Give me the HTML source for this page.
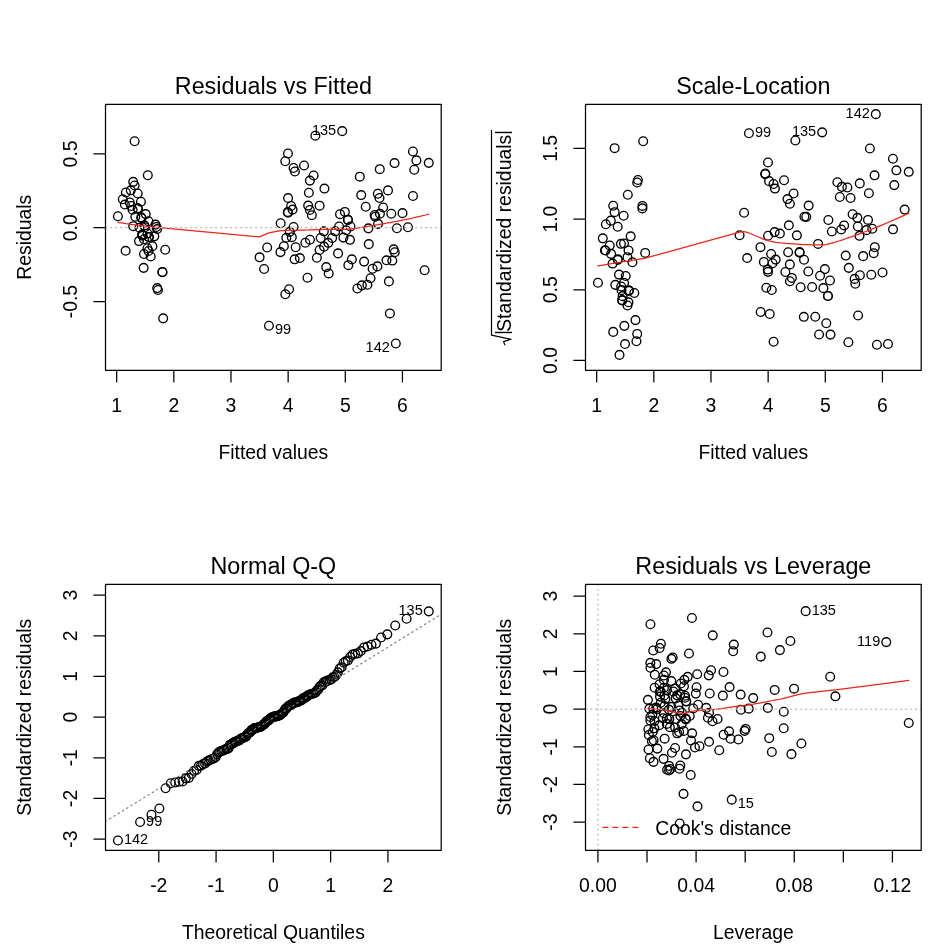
<!DOCTYPE html><html><head><meta charset="utf-8"><title>Diagnostic plots</title><style>html,body{margin:0;padding:0;background:#fff}svg{display:block}</style></head><body><svg width="949" height="951" viewBox="0 0 949 951" font-family='"Liberation Sans", sans-serif' fill="#000"><clipPath id="c1"><rect x="105.50" y="104.30" width="335.70" height="266.00"/></clipPath>
<g clip-path="url(#c1)">
<g fill="none" stroke="#000" stroke-width="1.35"><circle cx="144.02" cy="239.30" r="4.36"/><circle cx="142.23" cy="234.68" r="4.36"/><circle cx="133.21" cy="226.16" r="4.36"/><circle cx="130.77" cy="190.32" r="4.36"/><circle cx="139.51" cy="227.66" r="4.36"/><circle cx="157.20" cy="229.06" r="4.36"/><circle cx="131.12" cy="205.98" r="4.36"/><circle cx="141.57" cy="218.23" r="4.36"/><circle cx="125.88" cy="192.46" r="4.36"/><circle cx="137.75" cy="208.36" r="4.36"/><circle cx="152.38" cy="246.14" r="4.36"/><circle cx="134.62" cy="185.51" r="4.36"/><circle cx="135.31" cy="216.81" r="4.36"/><circle cx="117.93" cy="216.22" r="4.36"/><circle cx="163.18" cy="318.34" r="4.36"/><circle cx="162.46" cy="272.19" r="4.36"/><circle cx="157.20" cy="288.12" r="4.36"/><circle cx="147.46" cy="248.19" r="4.36"/><circle cx="165.21" cy="249.77" r="4.36"/><circle cx="144.36" cy="225.43" r="4.36"/><circle cx="155.47" cy="224.61" r="4.36"/><circle cx="148.84" cy="236.99" r="4.36"/><circle cx="125.61" cy="250.81" r="4.36"/><circle cx="156.41" cy="227.01" r="4.36"/><circle cx="134.62" cy="141.22" r="4.36"/><circle cx="145.70" cy="214.12" r="4.36"/><circle cx="148.46" cy="221.25" r="4.36"/><circle cx="147.49" cy="233.52" r="4.36"/><circle cx="148.52" cy="250.94" r="4.36"/><circle cx="133.21" cy="181.86" r="4.36"/><circle cx="137.72" cy="193.51" r="4.36"/><circle cx="162.36" cy="271.92" r="4.36"/><circle cx="137.86" cy="208.63" r="4.36"/><circle cx="150.69" cy="256.55" r="4.36"/><circle cx="141.19" cy="217.25" r="4.36"/><circle cx="143.64" cy="267.85" r="4.36"/><circle cx="157.92" cy="289.97" r="4.36"/><circle cx="132.59" cy="209.79" r="4.36"/><circle cx="124.85" cy="204.56" r="4.36"/><circle cx="145.05" cy="227.20" r="4.36"/><circle cx="143.98" cy="253.98" r="4.36"/><circle cx="138.99" cy="241.08" r="4.36"/><circle cx="122.79" cy="199.23" r="4.36"/><circle cx="154.31" cy="236.36" r="4.36"/><circle cx="147.80" cy="175.27" r="4.36"/><circle cx="142.19" cy="234.59" r="4.36"/><circle cx="140.92" cy="201.78" r="4.36"/><circle cx="129.74" cy="202.42" r="4.36"/><circle cx="148.90" cy="237.16" r="4.36"/><circle cx="142.60" cy="235.66" r="4.36"/><circle cx="338.08" cy="253.39" r="4.36"/><circle cx="320.67" cy="237.95" r="4.36"/><circle cx="339.08" cy="226.44" r="4.36"/><circle cx="291.80" cy="237.18" r="4.36"/><circle cx="328.27" cy="242.82" r="4.36"/><circle cx="293.59" cy="167.99" r="4.36"/><circle cx="319.60" cy="205.67" r="4.36"/><circle cx="259.59" cy="257.33" r="4.36"/><circle cx="323.83" cy="231.35" r="4.36"/><circle cx="280.69" cy="223.25" r="4.36"/><circle cx="267.19" cy="247.44" r="4.36"/><circle cx="305.36" cy="242.69" r="4.36"/><circle cx="299.88" cy="258.06" r="4.36"/><circle cx="309.90" cy="180.60" r="4.36"/><circle cx="289.08" cy="289.22" r="4.36"/><circle cx="328.68" cy="273.41" r="4.36"/><circle cx="294.93" cy="171.47" r="4.36"/><circle cx="287.77" cy="212.01" r="4.36"/><circle cx="324.04" cy="246.65" r="4.36"/><circle cx="286.32" cy="237.81" r="4.36"/><circle cx="313.62" cy="175.45" r="4.36"/><circle cx="307.49" cy="277.72" r="4.36"/><circle cx="324.42" cy="188.57" r="4.36"/><circle cx="304.05" cy="165.48" r="4.36"/><circle cx="316.88" cy="257.69" r="4.36"/><circle cx="326.24" cy="267.10" r="4.36"/><circle cx="335.25" cy="231.33" r="4.36"/><circle cx="340.04" cy="214.17" r="4.36"/><circle cx="309.86" cy="210.04" r="4.36"/><circle cx="285.32" cy="294.29" r="4.36"/><circle cx="283.88" cy="246.26" r="4.36"/><circle cx="280.44" cy="252.14" r="4.36"/><circle cx="294.65" cy="259.32" r="4.36"/><circle cx="315.37" cy="135.68" r="4.36"/><circle cx="287.98" cy="153.51" r="4.36"/><circle cx="308.15" cy="205.60" r="4.36"/><circle cx="332.13" cy="238.01" r="4.36"/><circle cx="319.60" cy="249.94" r="4.36"/><circle cx="288.05" cy="212.74" r="4.36"/><circle cx="289.73" cy="231.85" r="4.36"/><circle cx="285.26" cy="161.24" r="4.36"/><circle cx="308.87" cy="192.69" r="4.36"/><circle cx="295.68" cy="247.23" r="4.36"/><circle cx="264.10" cy="268.97" r="4.36"/><circle cx="291.14" cy="205.97" r="4.36"/><circle cx="288.08" cy="198.06" r="4.36"/><circle cx="292.56" cy="209.62" r="4.36"/><circle cx="309.93" cy="239.74" r="4.36"/><circle cx="268.95" cy="325.80" r="4.36"/><circle cx="293.59" cy="227.05" r="4.36"/><circle cx="379.78" cy="169.18" r="4.36"/><circle cx="347.94" cy="219.82" r="4.36"/><circle cx="396.91" cy="228.19" r="4.36"/><circle cx="359.81" cy="176.66" r="4.36"/><circle cx="379.50" cy="197.98" r="4.36"/><circle cx="414.28" cy="169.72" r="4.36"/><circle cx="311.85" cy="215.16" r="4.36"/><circle cx="394.56" cy="163.08" r="4.36"/><circle cx="377.84" cy="193.70" r="4.36"/><circle cx="407.96" cy="227.21" r="4.36"/><circle cx="370.55" cy="278.22" r="4.36"/><circle cx="368.79" cy="244.15" r="4.36"/><circle cx="386.48" cy="260.31" r="4.36"/><circle cx="349.97" cy="239.83" r="4.36"/><circle cx="364.12" cy="261.61" r="4.36"/><circle cx="377.40" cy="266.39" r="4.36"/><circle cx="365.73" cy="206.71" r="4.36"/><circle cx="412.94" cy="151.51" r="4.36"/><circle cx="428.77" cy="162.85" r="4.36"/><circle cx="346.28" cy="230.30" r="4.36"/><circle cx="394.78" cy="252.21" r="4.36"/><circle cx="343.40" cy="237.62" r="4.36"/><circle cx="416.38" cy="160.38" r="4.36"/><circle cx="361.88" cy="285.34" r="4.36"/><circle cx="379.91" cy="213.81" r="4.36"/><circle cx="387.99" cy="190.40" r="4.36"/><circle cx="357.37" cy="288.46" r="4.36"/><circle cx="351.83" cy="259.39" r="4.36"/><circle cx="374.64" cy="214.97" r="4.36"/><circle cx="383.17" cy="207.47" r="4.36"/><circle cx="402.51" cy="213.14" r="4.36"/><circle cx="413.01" cy="195.97" r="4.36"/><circle cx="378.09" cy="223.87" r="4.36"/><circle cx="350.52" cy="226.47" r="4.36"/><circle cx="342.19" cy="131.14" r="4.36"/><circle cx="424.64" cy="270.30" r="4.36"/><circle cx="375.30" cy="216.68" r="4.36"/><circle cx="361.22" cy="195.07" r="4.36"/><circle cx="348.36" cy="265.18" r="4.36"/><circle cx="388.92" cy="281.39" r="4.36"/><circle cx="392.30" cy="260.58" r="4.36"/><circle cx="395.81" cy="343.46" r="4.36"/><circle cx="347.94" cy="219.82" r="4.36"/><circle cx="391.30" cy="213.71" r="4.36"/><circle cx="393.68" cy="249.38" r="4.36"/><circle cx="389.89" cy="313.41" r="4.36"/><circle cx="367.38" cy="284.79" r="4.36"/><circle cx="372.61" cy="268.78" r="4.36"/><circle cx="368.39" cy="228.34" r="4.36"/><circle cx="344.88" cy="211.91" r="4.36"/></g>
<polyline points="117.93,222.33 122.79,223.10 124.85,223.41 125.61,223.52 125.88,223.57 129.74,224.12 130.77,224.27 131.12,224.31 132.59,224.52 133.21,224.60 133.21,224.60 134.62,224.79 134.62,224.79 135.31,224.88 137.72,225.19 137.75,225.20 137.86,225.21 138.99,225.35 139.51,225.42 140.92,225.59 141.19,225.62 141.57,225.67 142.19,225.74 142.23,225.75 142.60,225.79 143.64,225.91 143.98,225.96 144.02,225.96 144.36,226.00 145.05,226.08 145.70,226.15 147.46,226.35 147.49,226.35 147.80,226.39 148.46,226.46 148.52,226.47 148.84,226.50 148.90,226.51 150.69,226.71 152.38,226.89 154.31,227.09 155.47,227.21 156.41,227.30 157.20,227.38 157.20,227.38 157.92,227.45 162.36,227.88 162.46,227.89 163.18,227.96 165.21,228.15 259.59,236.86 264.10,234.91 267.19,233.59 268.95,232.94 280.44,230.72 280.69,230.70 283.88,230.51 285.26,230.46 285.32,230.45 286.32,230.41 287.77,230.37 287.98,230.36 288.05,230.36 288.08,230.36 289.08,230.33 289.73,230.32 291.14,230.31 291.80,230.30 292.56,230.30 293.59,230.29 293.59,230.29 294.65,230.29 294.93,230.29 295.68,230.29 299.88,230.23 304.05,230.11 305.36,230.07 307.49,230.00 308.15,229.98 308.87,229.96 309.86,229.93 309.90,229.93 309.93,229.93 311.85,229.86 313.62,229.80 315.37,229.74 316.88,229.69 319.60,229.59 319.60,229.59 320.67,229.56 323.83,229.45 324.04,229.45 324.42,229.44 326.24,229.38 328.27,229.33 328.68,229.32 332.13,229.26 335.25,229.24 338.08,229.27 339.08,229.29 340.04,229.32 342.19,229.40 343.40,229.43 344.88,229.47 346.28,229.35 347.94,229.21 347.94,229.21 348.36,229.16 349.97,228.99 350.52,228.93 351.83,228.77 357.37,228.01 359.81,227.64 361.22,227.43 361.88,227.33 364.12,226.97 365.73,226.72 367.38,226.45 368.39,226.29 368.79,226.23 370.55,225.94 372.61,225.60 374.64,225.26 375.30,225.15 377.40,224.80 377.84,224.73 378.09,224.68 379.50,224.44 379.78,224.40 379.91,224.37 383.17,223.81 386.48,223.22 387.99,222.95 388.92,222.78 389.89,222.61 391.30,222.35 392.30,222.17 393.68,221.91 394.56,221.74 394.78,221.70 395.81,221.51 396.91,221.30 402.51,220.20 407.96,219.08 412.94,218.00 413.01,217.99 414.28,217.71 416.38,217.23 424.64,215.25 428.77,214.21" fill="none" stroke="#ee2418" stroke-width="1.25" stroke-linejoin="round" stroke-linecap="round"/>
<line x1="105.50" y1="227.72" x2="441.20" y2="227.72" stroke="#bebebe" stroke-width="1.25" stroke-dasharray="1.25 3.75" stroke-linecap="round"/>
</g>
<g fill="none" stroke="#000" stroke-width="1.25" stroke-linecap="round" stroke-linejoin="round">
<rect x="105.50" y="104.30" width="335.70" height="266.00"/>
<path d="M116.67 370.30v11.62M173.82 370.30v11.62M230.98 370.30v11.62M288.13 370.30v11.62M345.29 370.30v11.62M402.44 370.30v11.62M105.50 301.54h-11.62M105.50 227.72h-11.62M105.50 153.90h-11.62"/></g>
<text x="116.67" y="411.73" font-size="19.37" text-anchor="middle">1</text>
<text x="173.82" y="411.73" font-size="19.37" text-anchor="middle">2</text>
<text x="230.98" y="411.73" font-size="19.37" text-anchor="middle">3</text>
<text x="288.13" y="411.73" font-size="19.37" text-anchor="middle">4</text>
<text x="345.29" y="411.73" font-size="19.37" text-anchor="middle">5</text>
<text x="402.44" y="411.73" font-size="19.37" text-anchor="middle">6</text>
<text x="76.71" y="301.54" font-size="19.37" text-anchor="middle" transform="rotate(-90 76.71 301.54)">-0.5</text>
<text x="76.71" y="227.72" font-size="19.37" text-anchor="middle" transform="rotate(-90 76.71 227.72)">0.0</text>
<text x="76.71" y="153.90" font-size="19.37" text-anchor="middle" transform="rotate(-90 76.71 153.90)">0.5</text>
<text x="273.35" y="459.11" font-size="19.37" text-anchor="middle">Fitted values</text>
<text x="30.73" y="237.30" font-size="19.37" text-anchor="middle" transform="rotate(-90 30.73 237.30)">Residuals</text>
<text x="273.35" y="93.84" font-size="23.33" text-anchor="middle">Residuals vs Fitted</text>
<text x="274.95" y="334.00" font-size="14.52" text-anchor="start">99</text>
<text x="336.19" y="134.84" font-size="14.52" text-anchor="end">135</text>
<text x="389.81" y="351.66" font-size="14.52" text-anchor="end">142</text>
<clipPath id="c2"><rect x="585.50" y="104.30" width="335.70" height="266.00"/></clipPath>
<g clip-path="url(#c2)">
<g fill="none" stroke="#000" stroke-width="1.35"><circle cx="624.02" cy="282.77" r="4.36"/><circle cx="622.23" cy="300.07" r="4.36"/><circle cx="613.21" cy="331.89" r="4.36"/><circle cx="610.77" cy="220.64" r="4.36"/><circle cx="619.51" cy="354.90" r="4.36"/><circle cx="637.20" cy="333.93" r="4.36"/><circle cx="611.12" cy="253.87" r="4.36"/><circle cx="621.57" cy="290.15" r="4.36"/><circle cx="605.88" cy="224.25" r="4.36"/><circle cx="617.75" cy="259.84" r="4.36"/><circle cx="632.38" cy="262.30" r="4.36"/><circle cx="614.62" cy="212.17" r="4.36"/><circle cx="615.31" cy="284.86" r="4.36"/><circle cx="597.93" cy="282.76" r="4.36"/><circle cx="643.18" cy="141.30" r="4.36"/><circle cx="642.46" cy="205.92" r="4.36"/><circle cx="637.20" cy="182.54" r="4.36"/><circle cx="627.46" cy="257.20" r="4.36"/><circle cx="645.21" cy="252.91" r="4.36"/><circle cx="624.36" cy="325.87" r="4.36"/><circle cx="635.47" cy="320.11" r="4.36"/><circle cx="628.84" cy="290.87" r="4.36"/><circle cx="605.61" cy="250.45" r="4.36"/><circle cx="636.41" cy="341.20" r="4.36"/><circle cx="614.62" cy="148.18" r="4.36"/><circle cx="625.70" cy="275.99" r="4.36"/><circle cx="628.46" cy="302.31" r="4.36"/><circle cx="627.49" cy="305.49" r="4.36"/><circle cx="628.52" cy="250.43" r="4.36"/><circle cx="613.21" cy="205.80" r="4.36"/><circle cx="617.72" cy="226.76" r="4.36"/><circle cx="642.36" cy="208.38" r="4.36"/><circle cx="617.86" cy="259.40" r="4.36"/><circle cx="630.69" cy="236.33" r="4.36"/><circle cx="621.19" cy="286.47" r="4.36"/><circle cx="623.64" cy="215.76" r="4.36"/><circle cx="637.92" cy="180.02" r="4.36"/><circle cx="612.59" cy="263.58" r="4.36"/><circle cx="604.85" cy="250.22" r="4.36"/><circle cx="625.05" cy="344.06" r="4.36"/><circle cx="623.98" cy="243.51" r="4.36"/><circle cx="618.99" cy="274.61" r="4.36"/><circle cx="602.79" cy="238.35" r="4.36"/><circle cx="634.31" cy="292.94" r="4.36"/><circle cx="627.80" cy="194.77" r="4.36"/><circle cx="622.19" cy="300.38" r="4.36"/><circle cx="620.92" cy="243.83" r="4.36"/><circle cx="609.74" cy="245.53" r="4.36"/><circle cx="628.90" cy="290.20" r="4.36"/><circle cx="622.60" cy="296.15" r="4.36"/><circle cx="818.08" cy="243.92" r="4.36"/><circle cx="800.67" cy="287.26" r="4.36"/><circle cx="819.08" cy="334.48" r="4.36"/><circle cx="771.80" cy="289.98" r="4.36"/><circle cx="808.27" cy="271.46" r="4.36"/><circle cx="773.59" cy="184.01" r="4.36"/><circle cx="799.60" cy="252.75" r="4.36"/><circle cx="739.59" cy="235.19" r="4.36"/><circle cx="803.83" cy="316.82" r="4.36"/><circle cx="760.69" cy="311.94" r="4.36"/><circle cx="747.19" cy="258.06" r="4.36"/><circle cx="785.36" cy="272.00" r="4.36"/><circle cx="779.88" cy="233.56" r="4.36"/><circle cx="789.90" cy="203.77" r="4.36"/><circle cx="769.08" cy="181.15" r="4.36"/><circle cx="808.68" cy="205.59" r="4.36"/><circle cx="774.93" cy="188.57" r="4.36"/><circle cx="767.77" cy="269.57" r="4.36"/><circle cx="804.04" cy="259.73" r="4.36"/><circle cx="766.32" cy="287.80" r="4.36"/><circle cx="793.62" cy="193.48" r="4.36"/><circle cx="787.49" cy="199.08" r="4.36"/><circle cx="804.42" cy="216.73" r="4.36"/><circle cx="784.05" cy="180.21" r="4.36"/><circle cx="796.88" cy="235.32" r="4.36"/><circle cx="806.24" cy="216.85" r="4.36"/><circle cx="815.25" cy="316.80" r="4.36"/><circle cx="820.04" cy="275.79" r="4.36"/><circle cx="789.86" cy="264.38" r="4.36"/><circle cx="765.32" cy="173.45" r="4.36"/><circle cx="763.88" cy="261.91" r="4.36"/><circle cx="760.44" cy="247.18" r="4.36"/><circle cx="774.65" cy="232.10" r="4.36"/><circle cx="795.37" cy="140.53" r="4.36"/><circle cx="767.98" cy="162.54" r="4.36"/><circle cx="788.15" cy="252.21" r="4.36"/><circle cx="812.13" cy="286.95" r="4.36"/><circle cx="799.60" cy="251.96" r="4.36"/><circle cx="768.05" cy="271.84" r="4.36"/><circle cx="769.73" cy="313.98" r="4.36"/><circle cx="765.26" cy="174.16" r="4.36"/><circle cx="788.87" cy="225.31" r="4.36"/><circle cx="775.68" cy="259.61" r="4.36"/><circle cx="744.10" cy="212.79" r="4.36"/><circle cx="771.14" cy="253.96" r="4.36"/><circle cx="768.08" cy="235.71" r="4.36"/><circle cx="772.56" cy="263.24" r="4.36"/><circle cx="789.93" cy="281.30" r="4.36"/><circle cx="748.95" cy="133.29" r="4.36"/><circle cx="773.59" cy="341.71" r="4.36"/><circle cx="859.78" cy="183.39" r="4.36"/><circle cx="827.94" cy="296.05" r="4.36"/><circle cx="876.91" cy="344.80" r="4.36"/><circle cx="839.81" cy="197.00" r="4.36"/><circle cx="859.50" cy="235.82" r="4.36"/><circle cx="894.28" cy="185.11" r="4.36"/><circle cx="791.85" cy="277.93" r="4.36"/><circle cx="874.56" cy="175.32" r="4.36"/><circle cx="857.84" cy="226.50" r="4.36"/><circle cx="887.96" cy="343.98" r="4.36"/><circle cx="850.55" cy="198.04" r="4.36"/><circle cx="848.79" cy="267.85" r="4.36"/><circle cx="866.48" cy="230.13" r="4.36"/><circle cx="829.97" cy="280.51" r="4.36"/><circle cx="844.12" cy="225.41" r="4.36"/><circle cx="857.40" cy="217.86" r="4.36"/><circle cx="845.73" cy="255.57" r="4.36"/><circle cx="892.94" cy="158.69" r="4.36"/><circle cx="908.77" cy="171.82" r="4.36"/><circle cx="826.28" cy="323.29" r="4.36"/><circle cx="874.78" cy="247.17" r="4.36"/><circle cx="823.40" cy="288.13" r="4.36"/><circle cx="896.38" cy="170.32" r="4.36"/><circle cx="841.88" cy="186.87" r="4.36"/><circle cx="859.91" cy="275.21" r="4.36"/><circle cx="867.99" cy="219.93" r="4.36"/><circle cx="837.37" cy="182.20" r="4.36"/><circle cx="831.83" cy="231.46" r="4.36"/><circle cx="854.64" cy="278.89" r="4.36"/><circle cx="863.17" cy="256.15" r="4.36"/><circle cx="882.51" cy="272.46" r="4.36"/><circle cx="893.01" cy="229.32" r="4.36"/><circle cx="858.09" cy="315.51" r="4.36"/><circle cx="830.52" cy="334.61" r="4.36"/><circle cx="822.19" cy="132.37" r="4.36"/><circle cx="904.64" cy="209.57" r="4.36"/><circle cx="855.30" cy="283.78" r="4.36"/><circle cx="841.22" cy="229.52" r="4.36"/><circle cx="828.36" cy="220.05" r="4.36"/><circle cx="868.92" cy="193.19" r="4.36"/><circle cx="872.30" cy="228.80" r="4.36"/><circle cx="875.81" cy="114.15" r="4.36"/><circle cx="827.94" cy="296.05" r="4.36"/><circle cx="871.30" cy="274.78" r="4.36"/><circle cx="873.68" cy="253.16" r="4.36"/><circle cx="869.89" cy="148.44" r="4.36"/><circle cx="847.38" cy="187.48" r="4.36"/><circle cx="852.61" cy="214.22" r="4.36"/><circle cx="848.39" cy="342.30" r="4.36"/><circle cx="824.88" cy="269.12" r="4.36"/></g>
<polyline points="597.93,265.89 602.79,265.10 604.85,264.77 605.61,264.64 605.88,264.60 609.74,263.97 610.77,263.80 611.12,263.74 612.59,263.50 613.21,263.40 613.21,263.40 614.62,263.17 614.62,263.17 615.31,263.06 617.72,262.66 617.75,262.65 617.86,262.64 618.99,262.45 619.51,262.37 620.92,262.13 621.19,262.09 621.57,262.03 622.19,261.93 622.23,261.92 622.60,261.86 623.64,261.69 623.98,261.63 624.02,261.63 624.36,261.57 625.05,261.46 625.70,261.35 627.46,261.07 627.49,261.06 627.80,261.01 628.46,260.90 628.52,260.89 628.84,260.84 628.90,260.83 630.69,260.54 632.38,260.27 634.31,259.96 635.47,259.77 636.41,259.62 637.20,259.50 637.20,259.50 637.92,259.38 642.36,258.67 642.46,258.66 643.18,258.54 645.21,258.22 739.59,232.20 744.10,231.72 747.19,232.41 748.95,233.02 760.44,237.78 760.69,237.91 763.88,239.40 765.26,239.81 765.32,239.83 766.32,240.12 767.77,240.49 767.98,240.54 768.05,240.56 768.08,240.57 769.08,240.83 769.73,241.00 771.14,241.37 771.80,241.54 772.56,241.70 773.59,241.91 773.59,241.91 774.65,242.12 774.93,242.17 775.68,242.31 779.88,242.83 784.05,243.22 785.36,243.34 787.49,243.52 788.15,243.57 788.87,243.63 789.86,243.71 789.90,243.71 789.93,243.71 791.85,243.86 793.62,243.98 795.37,244.10 796.88,244.19 799.60,244.35 799.60,244.35 800.67,244.40 803.83,244.55 804.04,244.56 804.42,244.58 806.24,244.65 808.27,244.73 808.68,244.74 812.13,244.84 815.25,244.90 818.08,244.94 819.08,244.95 820.04,244.96 822.19,244.97 823.40,244.91 824.88,244.83 826.28,244.51 827.94,244.14 827.94,244.14 828.36,244.03 829.97,243.62 830.52,243.48 831.83,243.13 837.37,241.50 839.81,240.73 841.22,240.27 841.88,240.05 844.12,239.31 845.73,238.76 847.38,238.19 848.39,237.84 848.79,237.70 850.55,237.08 852.61,236.35 854.64,235.62 855.30,235.38 857.40,234.61 857.84,234.45 858.09,234.36 859.50,233.84 859.78,233.74 859.91,233.69 863.17,232.47 866.48,231.21 867.99,230.62 868.92,230.26 869.89,229.89 871.30,229.33 872.30,228.94 873.68,228.39 874.56,228.04 874.78,227.95 875.81,227.54 876.91,227.10 882.51,224.80 887.96,222.50 892.94,220.35 893.01,220.32 894.28,219.76 896.38,218.83 904.64,215.06 908.77,213.12" fill="none" stroke="#ee2418" stroke-width="1.25" stroke-linejoin="round" stroke-linecap="round"/>
</g>
<g fill="none" stroke="#000" stroke-width="1.25" stroke-linecap="round" stroke-linejoin="round">
<rect x="585.50" y="104.30" width="335.70" height="266.00"/>
<path d="M596.67 370.30v11.62M653.82 370.30v11.62M710.98 370.30v11.62M768.13 370.30v11.62M825.29 370.30v11.62M882.44 370.30v11.62M585.50 360.45h-11.62M585.50 289.76h-11.62M585.50 219.07h-11.62M585.50 148.38h-11.62"/></g>
<text x="596.67" y="411.73" font-size="19.37" text-anchor="middle">1</text>
<text x="653.82" y="411.73" font-size="19.37" text-anchor="middle">2</text>
<text x="710.98" y="411.73" font-size="19.37" text-anchor="middle">3</text>
<text x="768.13" y="411.73" font-size="19.37" text-anchor="middle">4</text>
<text x="825.29" y="411.73" font-size="19.37" text-anchor="middle">5</text>
<text x="882.44" y="411.73" font-size="19.37" text-anchor="middle">6</text>
<text x="556.71" y="360.45" font-size="19.37" text-anchor="middle" transform="rotate(-90 556.71 360.45)">0.0</text>
<text x="556.71" y="289.76" font-size="19.37" text-anchor="middle" transform="rotate(-90 556.71 289.76)">0.5</text>
<text x="556.71" y="219.07" font-size="19.37" text-anchor="middle" transform="rotate(-90 556.71 219.07)">1.0</text>
<text x="556.71" y="148.38" font-size="19.37" text-anchor="middle" transform="rotate(-90 556.71 148.38)">1.5</text>
<text x="753.35" y="459.11" font-size="19.37" text-anchor="middle">Fitted values</text>
<text x="753.35" y="93.84" font-size="23.33" text-anchor="middle">Scale-Location</text>
<text x="754.95" y="136.99" font-size="14.52" text-anchor="start">99</text>
<text x="816.19" y="136.07" font-size="14.52" text-anchor="end">135</text>
<text x="869.81" y="117.85" font-size="14.52" text-anchor="end">142</text>
<clipPath id="c3"><rect x="105.50" y="584.30" width="335.70" height="266.00"/></clipPath>
<g clip-path="url(#c3)">
<g fill="none" stroke="#000" stroke-width="1.35"><circle cx="253.33" cy="729.37" r="4.36"/><circle cx="263.25" cy="724.52" r="4.36"/><circle cx="279.58" cy="715.45" r="4.36"/><circle cx="332.72" cy="677.36" r="4.36"/><circle cx="272.87" cy="717.04" r="4.36"/><circle cx="270.00" cy="718.54" r="4.36"/><circle cx="311.99" cy="694.01" r="4.36"/><circle cx="287.37" cy="707.06" r="4.36"/><circle cx="331.11" cy="679.39" r="4.36"/><circle cx="306.17" cy="696.53" r="4.36"/><circle cx="246.02" cy="736.69" r="4.36"/><circle cx="337.88" cy="672.40" r="4.36"/><circle cx="289.35" cy="705.49" r="4.36"/><circle cx="291.35" cy="704.83" r="4.36"/><circle cx="151.45" cy="814.75" r="4.36"/><circle cx="201.01" cy="765.66" r="4.36"/><circle cx="182.65" cy="781.47" r="4.36"/><circle cx="240.53" cy="738.78" r="4.36"/><circle cx="238.25" cy="740.62" r="4.36"/><circle cx="280.55" cy="714.67" r="4.36"/><circle cx="281.51" cy="713.80" r="4.36"/><circle cx="260.32" cy="726.95" r="4.36"/><circle cx="235.91" cy="741.71" r="4.36"/><circle cx="276.70" cy="716.35" r="4.36"/><circle cx="395.25" cy="625.49" r="4.36"/><circle cx="294.40" cy="702.60" r="4.36"/><circle cx="284.43" cy="710.23" r="4.36"/><circle cx="265.19" cy="723.25" r="4.36"/><circle cx="234.71" cy="741.71" r="4.36"/><circle cx="339.71" cy="668.48" r="4.36"/><circle cx="326.52" cy="680.77" r="4.36"/><circle cx="203.09" cy="764.13" r="4.36"/><circle cx="307.31" cy="696.35" r="4.36"/><circle cx="228.47" cy="748.43" r="4.36"/><circle cx="288.36" cy="705.98" r="4.36"/><circle cx="210.60" cy="759.67" r="4.36"/><circle cx="170.77" cy="783.30" r="4.36"/><circle cx="303.94" cy="698.03" r="4.36"/><circle cx="315.67" cy="692.40" r="4.36"/><circle cx="273.83" cy="716.56" r="4.36"/><circle cx="229.76" cy="744.91" r="4.36"/><circle cx="250.24" cy="732.09" r="4.36"/><circle cx="319.55" cy="686.80" r="4.36"/><circle cx="261.30" cy="726.37" r="4.36"/><circle cx="345.69" cy="661.29" r="4.36"/><circle cx="264.22" cy="724.44" r="4.36"/><circle cx="318.23" cy="689.46" r="4.36"/><circle cx="316.94" cy="690.25" r="4.36"/><circle cx="259.33" cy="727.14" r="4.36"/><circle cx="262.27" cy="725.51" r="4.36"/><circle cx="231.03" cy="744.72" r="4.36"/><circle cx="255.35" cy="728.00" r="4.36"/><circle cx="278.62" cy="715.73" r="4.36"/><circle cx="258.34" cy="727.20" r="4.36"/><circle cx="248.15" cy="733.21" r="4.36"/><circle cx="355.14" cy="653.81" r="4.36"/><circle cx="313.20" cy="693.52" r="4.36"/><circle cx="225.82" cy="749.01" r="4.36"/><circle cx="268.08" cy="720.98" r="4.36"/><circle cx="283.45" cy="712.32" r="4.36"/><circle cx="241.65" cy="738.42" r="4.36"/><circle cx="249.20" cy="733.01" r="4.36"/><circle cx="224.45" cy="749.84" r="4.36"/><circle cx="341.62" cy="667.19" r="4.36"/><circle cx="175.21" cy="782.47" r="4.36"/><circle cx="198.83" cy="765.87" r="4.36"/><circle cx="350.15" cy="657.04" r="4.36"/><circle cx="300.68" cy="700.31" r="4.36"/><circle cx="243.86" cy="737.73" r="4.36"/><circle cx="256.35" cy="727.84" r="4.36"/><circle cx="347.87" cy="660.42" r="4.36"/><circle cx="196.55" cy="770.05" r="4.36"/><circle cx="336.10" cy="675.11" r="4.36"/><circle cx="360.85" cy="651.06" r="4.36"/><circle cx="227.15" cy="748.94" r="4.36"/><circle cx="212.32" cy="759.03" r="4.36"/><circle cx="267.12" cy="720.98" r="4.36"/><circle cx="295.42" cy="702.53" r="4.36"/><circle cx="302.84" cy="698.34" r="4.36"/><circle cx="165.61" cy="788.21" r="4.36"/><circle cx="244.95" cy="736.85" r="4.36"/><circle cx="233.50" cy="743.19" r="4.36"/><circle cx="223.06" cy="750.60" r="4.36"/><circle cx="406.61" cy="618.76" r="4.36"/><circle cx="381.09" cy="637.47" r="4.36"/><circle cx="314.43" cy="693.28" r="4.36"/><circle cx="254.34" cy="728.09" r="4.36"/><circle cx="237.08" cy="741.03" r="4.36"/><circle cx="299.61" cy="701.14" r="4.36"/><circle cx="266.15" cy="721.50" r="4.36"/><circle cx="367.58" cy="646.54" r="4.36"/><circle cx="329.54" cy="679.97" r="4.36"/><circle cx="242.76" cy="737.78" r="4.36"/><circle cx="206.99" cy="761.44" r="4.36"/><circle cx="310.79" cy="694.05" r="4.36"/><circle cx="322.25" cy="685.47" r="4.36"/><circle cx="305.05" cy="697.89" r="4.36"/><circle cx="252.30" cy="729.84" r="4.36"/><circle cx="140.09" cy="822.02" r="4.36"/><circle cx="275.74" cy="716.39" r="4.36"/><circle cx="357.89" cy="653.36" r="4.36"/><circle cx="285.40" cy="708.67" r="4.36"/><circle cx="271.91" cy="717.60" r="4.36"/><circle cx="343.61" cy="662.79" r="4.36"/><circle cx="320.88" cy="685.52" r="4.36"/><circle cx="352.57" cy="654.59" r="4.36"/><circle cx="293.37" cy="703.26" r="4.36"/><circle cx="364.05" cy="647.42" r="4.36"/><circle cx="328.01" cy="680.63" r="4.36"/><circle cx="274.79" cy="716.55" r="4.36"/><circle cx="194.13" cy="770.74" r="4.36"/><circle cx="247.09" cy="734.54" r="4.36"/><circle cx="220.18" cy="751.64" r="4.36"/><circle cx="251.28" cy="730.10" r="4.36"/><circle cx="217.16" cy="754.18" r="4.36"/><circle cx="213.98" cy="758.44" r="4.36"/><circle cx="309.62" cy="694.74" r="4.36"/><circle cx="387.31" cy="634.34" r="4.36"/><circle cx="371.49" cy="644.76" r="4.36"/><circle cx="269.04" cy="719.91" r="4.36"/><circle cx="232.27" cy="743.19" r="4.36"/><circle cx="257.35" cy="727.74" r="4.36"/><circle cx="375.93" cy="643.60" r="4.36"/><circle cx="185.85" cy="778.37" r="4.36"/><circle cx="296.46" cy="702.33" r="4.36"/><circle cx="334.38" cy="676.96" r="4.36"/><circle cx="179.12" cy="781.71" r="4.36"/><circle cx="221.64" cy="750.93" r="4.36"/><circle cx="292.36" cy="703.58" r="4.36"/><circle cx="308.45" cy="694.99" r="4.36"/><circle cx="298.55" cy="701.36" r="4.36"/><circle cx="325.06" cy="682.14" r="4.36"/><circle cx="282.48" cy="713.00" r="4.36"/><circle cx="277.66" cy="715.75" r="4.36"/><circle cx="428.77" cy="611.34" r="4.36"/><circle cx="205.08" cy="763.39" r="4.36"/><circle cx="290.35" cy="705.15" r="4.36"/><circle cx="323.64" cy="682.25" r="4.36"/><circle cx="215.59" cy="757.19" r="4.36"/><circle cx="191.56" cy="773.99" r="4.36"/><circle cx="218.69" cy="752.34" r="4.36"/><circle cx="117.93" cy="840.45" r="4.36"/><circle cx="286.38" cy="708.67" r="4.36"/><circle cx="297.50" cy="702.18" r="4.36"/><circle cx="239.39" cy="740.51" r="4.36"/><circle cx="159.39" cy="808.50" r="4.36"/><circle cx="188.81" cy="777.93" r="4.36"/><circle cx="208.82" cy="760.58" r="4.36"/><circle cx="270.96" cy="717.78" r="4.36"/><circle cx="301.75" cy="700.15" r="4.36"/></g>
<line x1="105.50" y1="821.46" x2="441.20" y2="614.28" stroke="#7f7f7f" stroke-width="1.25" stroke-dasharray="1.25 3.75" stroke-linecap="round"/>
</g>
<g fill="none" stroke="#000" stroke-width="1.25" stroke-linecap="round" stroke-linejoin="round">
<rect x="105.50" y="584.30" width="335.70" height="266.00"/>
<path d="M158.78 850.30v11.62M216.07 850.30v11.62M273.35 850.30v11.62M330.63 850.30v11.62M387.92 850.30v11.62M105.50 839.03h-11.62M105.50 798.39h-11.62M105.50 757.75h-11.62M105.50 717.11h-11.62M105.50 676.46h-11.62M105.50 635.82h-11.62M105.50 595.18h-11.62"/></g>
<text x="158.78" y="891.73" font-size="19.37" text-anchor="middle">-2</text>
<text x="216.07" y="891.73" font-size="19.37" text-anchor="middle">-1</text>
<text x="273.35" y="891.73" font-size="19.37" text-anchor="middle">0</text>
<text x="330.63" y="891.73" font-size="19.37" text-anchor="middle">1</text>
<text x="387.92" y="891.73" font-size="19.37" text-anchor="middle">2</text>
<text x="76.71" y="839.03" font-size="19.37" text-anchor="middle" transform="rotate(-90 76.71 839.03)">-3</text>
<text x="76.71" y="798.39" font-size="19.37" text-anchor="middle" transform="rotate(-90 76.71 798.39)">-2</text>
<text x="76.71" y="757.75" font-size="19.37" text-anchor="middle" transform="rotate(-90 76.71 757.75)">-1</text>
<text x="76.71" y="717.11" font-size="19.37" text-anchor="middle" transform="rotate(-90 76.71 717.11)">0</text>
<text x="76.71" y="676.46" font-size="19.37" text-anchor="middle" transform="rotate(-90 76.71 676.46)">1</text>
<text x="76.71" y="635.82" font-size="19.37" text-anchor="middle" transform="rotate(-90 76.71 635.82)">2</text>
<text x="76.71" y="595.18" font-size="19.37" text-anchor="middle" transform="rotate(-90 76.71 595.18)">3</text>
<text x="273.35" y="939.11" font-size="19.37" text-anchor="middle">Theoretical Quantiles</text>
<text x="30.73" y="717.30" font-size="19.37" text-anchor="middle" transform="rotate(-90 30.73 717.30)">Standardized residuals</text>
<text x="273.35" y="573.84" font-size="23.33" text-anchor="middle">Normal Q-Q</text>
<text x="146.09" y="825.72" font-size="14.52" text-anchor="start">99</text>
<text x="422.77" y="615.04" font-size="14.52" text-anchor="end">135</text>
<text x="123.93" y="844.15" font-size="14.52" text-anchor="start">142</text>
<clipPath id="c4"><rect x="585.50" y="584.30" width="335.70" height="266.00"/></clipPath>
<g clip-path="url(#c4)">
<g fill="none" stroke="#000" stroke-width="1.35"><circle cx="650.36" cy="720.53" r="4.36"/><circle cx="680.38" cy="716.03" r="4.36"/><circle cx="656.22" cy="707.62" r="4.36"/><circle cx="666.01" cy="672.33" r="4.36"/><circle cx="656.96" cy="709.10" r="4.36"/><circle cx="679.46" cy="710.48" r="4.36"/><circle cx="663.93" cy="687.76" r="4.36"/><circle cx="647.95" cy="699.85" r="4.36"/><circle cx="697.21" cy="674.21" r="4.36"/><circle cx="666.84" cy="690.09" r="4.36"/><circle cx="669.87" cy="727.31" r="4.36"/><circle cx="650.44" cy="667.73" r="4.36"/><circle cx="675.77" cy="698.39" r="4.36"/><circle cx="685.01" cy="697.79" r="4.36"/><circle cx="731.75" cy="799.65" r="4.36"/><circle cx="791.43" cy="754.15" r="4.36"/><circle cx="679.46" cy="768.80" r="4.36"/><circle cx="648.39" cy="729.24" r="4.36"/><circle cx="683.79" cy="730.95" r="4.36"/><circle cx="671.49" cy="706.90" r="4.36"/><circle cx="664.52" cy="706.09" r="4.36"/><circle cx="662.85" cy="718.28" r="4.36"/><circle cx="679.15" cy="731.96" r="4.36"/><circle cx="693.24" cy="708.46" r="4.36"/><circle cx="650.44" cy="624.25" r="4.36"/><circle cx="685.05" cy="695.72" r="4.36"/><circle cx="660.73" cy="702.79" r="4.36"/><circle cx="652.34" cy="714.85" r="4.36"/><circle cx="652.64" cy="731.96" r="4.36"/><circle cx="656.22" cy="664.09" r="4.36"/><circle cx="663.86" cy="675.48" r="4.36"/><circle cx="671.95" cy="752.73" r="4.36"/><circle cx="774.70" cy="689.92" r="4.36"/><circle cx="769.22" cy="738.18" r="4.36"/><circle cx="665.47" cy="698.85" r="4.36"/><circle cx="657.32" cy="748.60" r="4.36"/><circle cx="669.08" cy="770.50" r="4.36"/><circle cx="673.37" cy="691.48" r="4.36"/><circle cx="683.98" cy="686.26" r="4.36"/><circle cx="649.40" cy="708.65" r="4.36"/><circle cx="648.87" cy="734.93" r="4.36"/><circle cx="908.77" cy="723.04" r="4.36"/><circle cx="671.29" cy="681.07" r="4.36"/><circle cx="707.90" cy="717.74" r="4.36"/><circle cx="672.71" cy="657.44" r="4.36"/><circle cx="689.73" cy="715.96" r="4.36"/><circle cx="680.76" cy="683.53" r="4.36"/><circle cx="659.45" cy="684.27" r="4.36"/><circle cx="666.80" cy="718.46" r="4.36"/><circle cx="650.34" cy="716.95" r="4.36"/><circle cx="723.60" cy="734.74" r="4.36"/><circle cx="676.04" cy="719.25" r="4.36"/><circle cx="706.25" cy="707.89" r="4.36"/><circle cx="685.73" cy="718.52" r="4.36"/><circle cx="681.71" cy="724.08" r="4.36"/><circle cx="653.24" cy="650.50" r="4.36"/><circle cx="696.54" cy="687.30" r="4.36"/><circle cx="730.54" cy="738.72" r="4.36"/><circle cx="681.98" cy="712.74" r="4.36"/><circle cx="698.07" cy="704.72" r="4.36"/><circle cx="745.64" cy="728.91" r="4.36"/><circle cx="666.85" cy="723.90" r="4.36"/><circle cx="738.38" cy="739.50" r="4.36"/><circle cx="650.35" cy="662.90" r="4.36"/><circle cx="667.10" cy="769.74" r="4.36"/><circle cx="685.96" cy="754.34" r="4.36"/><circle cx="689.00" cy="653.49" r="4.36"/><circle cx="695.81" cy="693.59" r="4.36"/><circle cx="783.70" cy="728.27" r="4.36"/><circle cx="669.36" cy="719.10" r="4.36"/><circle cx="760.80" cy="656.63" r="4.36"/><circle cx="649.85" cy="758.22" r="4.36"/><circle cx="711.06" cy="670.24" r="4.36"/><circle cx="659.64" cy="647.95" r="4.36"/><circle cx="664.64" cy="738.66" r="4.36"/><circle cx="675.04" cy="748.01" r="4.36"/><circle cx="709.04" cy="712.75" r="4.36"/><circle cx="722.85" cy="695.65" r="4.36"/><circle cx="659.84" cy="691.77" r="4.36"/><circle cx="690.71" cy="775.05" r="4.36"/><circle cx="675.12" cy="727.45" r="4.36"/><circle cx="692.14" cy="733.33" r="4.36"/><circle cx="653.64" cy="740.20" r="4.36"/><circle cx="691.94" cy="618.02" r="4.36"/><circle cx="712.74" cy="635.36" r="4.36"/><circle cx="729.58" cy="687.08" r="4.36"/><circle cx="685.82" cy="719.34" r="4.36"/><circle cx="729.07" cy="731.33" r="4.36"/><circle cx="680.21" cy="694.36" r="4.36"/><circle cx="663.95" cy="713.23" r="4.36"/><circle cx="660.86" cy="643.76" r="4.36"/><circle cx="654.76" cy="674.75" r="4.36"/><circle cx="654.37" cy="728.32" r="4.36"/><circle cx="719.26" cy="750.24" r="4.36"/><circle cx="654.65" cy="687.79" r="4.36"/><circle cx="684.37" cy="679.84" r="4.36"/><circle cx="660.51" cy="691.35" r="4.36"/><circle cx="654.49" cy="720.96" r="4.36"/><circle cx="697.50" cy="806.39" r="4.36"/><circle cx="653.24" cy="708.50" r="4.36"/><circle cx="779.89" cy="650.09" r="4.36"/><circle cx="686.21" cy="701.34" r="4.36"/><circle cx="668.91" cy="709.62" r="4.36"/><circle cx="671.41" cy="658.82" r="4.36"/><circle cx="663.95" cy="679.89" r="4.36"/><circle cx="733.20" cy="651.23" r="4.36"/><circle cx="835.42" cy="696.33" r="4.36"/><circle cx="733.82" cy="644.58" r="4.36"/><circle cx="708.74" cy="675.35" r="4.36"/><circle cx="748.73" cy="708.65" r="4.36"/><circle cx="663.56" cy="758.86" r="4.36"/><circle cx="659.30" cy="725.31" r="4.36"/><circle cx="651.87" cy="741.16" r="4.36"/><circle cx="712.43" cy="721.20" r="4.36"/><circle cx="801.37" cy="743.52" r="4.36"/><circle cx="694.95" cy="747.47" r="4.36"/><circle cx="675.04" cy="688.43" r="4.36"/><circle cx="767.46" cy="632.46" r="4.36"/><circle cx="886.26" cy="642.11" r="4.36"/><circle cx="783.77" cy="711.76" r="4.36"/><circle cx="677.21" cy="733.33" r="4.36"/><circle cx="717.57" cy="719.01" r="4.36"/><circle cx="790.39" cy="641.04" r="4.36"/><circle cx="669.16" cy="765.93" r="4.36"/><circle cx="664.40" cy="695.47" r="4.36"/><circle cx="723.48" cy="671.95" r="4.36"/><circle cx="670.37" cy="769.02" r="4.36"/><circle cx="690.99" cy="740.51" r="4.36"/><circle cx="659.98" cy="696.62" r="4.36"/><circle cx="794.04" cy="688.66" r="4.36"/><circle cx="740.66" cy="694.57" r="4.36"/><circle cx="830.18" cy="676.76" r="4.36"/><circle cx="678.47" cy="705.35" r="4.36"/><circle cx="767.80" cy="707.90" r="4.36"/><circle cx="805.68" cy="611.14" r="4.36"/><circle cx="771.84" cy="752.05" r="4.36"/><circle cx="753.20" cy="698.08" r="4.36"/><circle cx="687.69" cy="676.86" r="4.36"/><circle cx="699.47" cy="746.30" r="4.36"/><circle cx="653.53" cy="761.87" r="4.36"/><circle cx="709.08" cy="741.81" r="4.36"/><circle cx="679.72" cy="823.46" r="4.36"/><circle cx="686.21" cy="701.34" r="4.36"/><circle cx="677.17" cy="695.33" r="4.36"/><circle cx="744.58" cy="730.85" r="4.36"/><circle cx="683.51" cy="793.85" r="4.36"/><circle cx="680.28" cy="765.53" r="4.36"/><circle cx="648.52" cy="749.45" r="4.36"/><circle cx="740.92" cy="709.78" r="4.36"/><circle cx="709.74" cy="693.44" r="4.36"/></g>
<polyline points="647.95,708.20 648.39,708.25 648.52,708.26 648.87,708.29 649.40,708.34 649.85,708.38 650.34,708.43 650.35,708.43 650.36,708.43 650.44,708.44 650.44,708.44 651.87,708.60 652.34,708.66 652.64,708.69 653.24,708.77 653.24,708.77 653.53,708.81 653.64,708.83 654.37,708.92 654.49,708.94 654.65,708.96 654.76,708.98 656.22,709.19 656.22,709.19 656.96,709.29 657.32,709.34 659.30,709.63 659.45,709.65 659.64,709.68 659.84,709.71 659.98,709.73 660.51,709.80 660.73,709.83 660.86,709.85 662.85,710.11 663.56,710.20 663.86,710.23 663.93,710.24 663.95,710.24 663.95,710.24 664.40,710.30 664.52,710.31 664.64,710.33 665.47,710.42 666.01,710.48 666.80,710.57 666.84,710.57 666.85,710.58 667.10,710.60 668.91,710.84 669.08,710.87 669.16,710.88 669.36,710.90 669.87,711.04 670.37,711.17 671.29,711.41 671.41,711.44 671.49,711.46 671.95,711.58 672.71,711.80 673.37,711.99 675.04,712.37 675.04,712.37 675.12,712.39 675.77,712.53 676.04,712.56 677.17,712.71 677.21,712.71 678.47,712.90 679.15,713.01 679.46,713.05 679.46,713.05 679.72,713.09 680.21,713.17 680.28,713.18 680.38,713.19 680.76,713.25 681.71,713.40 681.98,713.44 683.51,713.39 683.79,713.39 683.98,713.38 684.37,713.37 685.01,713.20 685.05,713.19 685.73,713.01 685.82,712.99 685.96,712.95 686.21,712.89 686.21,712.89 687.69,712.45 689.00,712.13 689.73,711.94 690.71,711.73 690.99,711.66 691.94,711.45 692.14,711.41 693.24,711.19 694.95,710.90 695.81,710.76 696.54,710.69 697.21,710.62 697.50,710.59 698.07,710.54 699.47,710.33 706.25,709.65 707.90,709.65 708.74,709.65 709.04,709.66 709.08,709.66 709.74,709.66 711.06,709.68 712.43,709.67 712.74,709.67 717.57,709.24 719.26,708.97 722.85,708.39 723.48,708.30 723.60,708.28 729.07,707.42 729.58,707.35 730.54,707.21 731.75,707.03 733.20,706.82 733.82,706.74 738.38,706.15 740.66,705.88 740.92,705.85 744.58,705.39 745.64,705.25 748.73,704.83 753.20,704.16 760.80,702.82 767.46,701.56 767.80,701.50 769.22,701.23 771.84,700.74 774.70,700.21 779.89,699.26 783.70,698.45 783.77,698.44 790.39,696.70 791.43,696.40 794.04,695.67 801.37,693.97 805.68,693.24 830.18,690.45 835.42,689.89 886.26,683.48 908.77,680.39" fill="none" stroke="#ee2418" stroke-width="1.25" stroke-linejoin="round" stroke-linecap="round"/>
<line x1="585.50" y1="709.16" x2="921.20" y2="709.16" stroke="#bebebe" stroke-width="1.25" stroke-dasharray="1.25 3.75" stroke-linecap="round"/>
<line x1="597.93" y1="850.30" x2="597.93" y2="584.30" stroke="#bebebe" stroke-width="1.25" stroke-dasharray="1.25 3.75" stroke-linecap="round"/>
<polyline points="601.04,-1122.65 604.24,-575.68 607.44,-336.65 610.65,-194.84 613.85,-98.28 617.05,-27.08 620.25,28.22 623.45,72.78 626.65,109.69 629.86,140.92 633.06,167.80 636.26,191.25 639.46,211.94 642.66,230.38 645.86,246.96 649.07,261.96 652.27,275.62 655.47,288.14 658.67,299.66 661.87,310.31 665.07,320.20 668.27,329.41 671.48,338.01 674.68,346.08 677.88,353.67 681.08,360.81 684.28,367.56 687.48,373.95 690.69,380.01 693.89,385.77 697.09,391.25 700.29,396.47 703.49,401.46 706.69,406.23 709.90,410.80 713.10,415.17 716.30,419.37 719.50,423.41 722.70,427.30 725.90,431.04 729.11,434.64 732.31,438.12 735.51,441.47 738.71,444.72 741.91,447.86 745.11,450.89 748.31,453.83 751.52,456.68 754.72,459.45 757.92,462.13 761.12,464.74 764.32,467.27 767.52,469.73 770.73,472.13 773.93,474.46 777.13,476.73 780.33,478.94 783.53,481.09 786.73,483.20 789.94,485.25 793.14,487.25 796.34,489.20 799.54,491.11 802.74,492.97 805.94,494.80 809.14,496.58 812.35,498.32 815.55,500.03 818.75,501.70 821.95,503.34 825.15,504.94 828.35,506.51 831.56,508.04 834.76,509.55 837.96,511.03 841.16,512.48 844.36,513.91 847.56,515.30 850.77,516.67 853.97,518.02 857.17,519.34 860.37,520.64 863.57,521.92 866.77,523.17 869.97,524.41 873.18,525.62 876.38,526.81 879.58,527.98 882.78,529.14 885.98,530.27 889.18,531.39 892.39,532.49 895.59,533.57 898.79,534.64 901.99,535.69 905.19,536.72 908.39,537.74 911.60,538.75 914.80,539.74 918.00,540.71 921.20,541.68" fill="none" stroke="#ee2418" stroke-width="1.25" stroke-dasharray="5.0 5.0" stroke-linecap="round"/>
<polyline points="601.04,2540.97 604.24,1994.00 607.44,1754.97 610.65,1613.15 613.85,1516.59 617.05,1445.40 620.25,1390.10 623.45,1345.53 626.65,1308.62 629.86,1277.39 633.06,1250.52 636.26,1227.07 639.46,1206.38 642.66,1187.93 645.86,1171.36 649.07,1156.36 652.27,1142.69 655.47,1130.18 658.67,1118.66 661.87,1108.00 665.07,1098.12 668.27,1088.91 671.48,1080.30 674.68,1072.23 677.88,1064.65 681.08,1057.50 684.28,1050.75 687.48,1044.36 690.69,1038.31 693.89,1032.55 697.09,1027.07 700.29,1021.84 703.49,1016.86 706.69,1012.09 709.90,1007.52 713.10,1003.14 716.30,998.94 719.50,994.90 722.70,991.02 725.90,987.28 729.11,983.68 732.31,980.20 735.51,976.84 738.71,973.60 741.91,970.46 745.11,967.42 748.31,964.48 751.52,961.63 754.72,958.87 757.92,956.18 761.12,953.58 764.32,951.04 767.52,948.58 770.73,946.19 773.93,943.86 777.13,941.59 780.33,939.38 783.53,937.22 786.73,935.12 789.94,933.07 793.14,931.07 796.34,929.11 799.54,927.21 802.74,925.34 805.94,923.52 809.14,921.74 812.35,919.99 815.55,918.29 818.75,916.62 821.95,914.98 825.15,913.38 828.35,911.81 831.56,910.27 834.76,908.76 837.96,907.28 841.16,905.83 844.36,904.41 847.56,903.01 850.77,901.64 853.97,900.30 857.17,898.97 860.37,897.67 863.57,896.40 866.77,895.14 869.97,893.91 873.18,892.70 876.38,891.51 879.58,890.33 882.78,889.18 885.98,888.04 889.18,886.93 892.39,885.83 895.59,884.74 898.79,883.68 901.99,882.63 905.19,881.59 908.39,880.57 911.60,879.57 914.80,878.58 918.00,877.60 921.20,876.64" fill="none" stroke="#ee2418" stroke-width="1.25" stroke-dasharray="5.0 5.0" stroke-linecap="round"/>
<polyline points="601.04,-1881.42 604.24,-1107.88 607.44,-769.84 610.65,-569.29 613.85,-432.73 617.05,-332.05 620.25,-253.84 623.45,-190.82 626.65,-138.61 629.86,-94.45 633.06,-56.44 636.26,-23.28 639.46,5.99 642.66,32.07 645.86,55.51 649.07,76.72 652.27,96.05 655.47,113.75 658.67,130.04 661.87,145.10 665.07,159.08 668.27,172.11 671.48,184.28 674.68,195.69 677.88,206.42 681.08,216.52 684.28,226.07 687.48,235.10 690.69,243.67 693.89,251.81 697.09,259.56 700.29,266.95 703.49,274.01 706.69,280.75 709.90,287.21 713.10,293.40 716.30,299.34 719.50,305.05 722.70,310.54 725.90,315.83 729.11,320.93 732.31,325.85 735.51,330.60 738.71,335.18 741.91,339.62 745.11,343.92 748.31,348.08 751.52,352.11 754.72,356.02 757.92,359.81 761.12,363.50 764.32,367.08 767.52,370.56 770.73,373.95 773.93,377.24 777.13,380.45 780.33,383.58 783.53,386.63 786.73,389.60 789.94,392.50 793.14,395.33 796.34,398.09 799.54,400.79 802.74,403.43 805.94,406.01 809.14,408.53 812.35,410.99 815.55,413.41 818.75,415.77 821.95,418.08 825.15,420.35 828.35,422.57 831.56,424.74 834.76,426.87 837.96,428.97 841.16,431.02 844.36,433.03 847.56,435.01 850.77,436.94 853.97,438.85 857.17,440.72 860.37,442.56 863.57,444.36 866.77,446.13 869.97,447.88 873.18,449.59 876.38,451.28 879.58,452.94 882.78,454.57 885.98,456.18 889.18,457.76 892.39,459.31 895.59,460.84 898.79,462.35 901.99,463.84 905.19,465.30 908.39,466.74 911.60,468.16 914.80,469.56 918.00,470.94 921.20,472.30" fill="none" stroke="#ee2418" stroke-width="1.25" stroke-dasharray="5.0 5.0" stroke-linecap="round"/>
<polyline points="604.24,2526.20 607.44,2188.15 610.65,1987.60 613.85,1851.05 617.05,1750.36 620.25,1672.15 623.45,1609.13 626.65,1556.93 629.86,1512.76 633.06,1474.76 636.26,1441.60 639.46,1412.33 642.66,1386.25 645.86,1362.81 649.07,1341.59 652.27,1322.27 655.47,1304.57 658.67,1288.28 661.87,1273.21 665.07,1259.23 668.27,1246.21 671.48,1234.03 674.68,1222.62 677.88,1211.90 681.08,1201.79 684.28,1192.25 687.48,1183.21 690.69,1174.64 693.89,1166.50 697.09,1158.75 700.29,1151.36 703.49,1144.31 706.69,1137.56 709.90,1131.11 713.10,1124.92 716.30,1118.97 719.50,1113.26 722.70,1107.77 725.90,1102.48 729.11,1097.39 732.31,1092.47 735.51,1087.72 738.71,1083.13 741.91,1078.69 745.11,1074.40 748.31,1070.24 751.52,1066.21 754.72,1062.30 757.92,1058.50 761.12,1054.82 764.32,1051.24 767.52,1047.76 770.73,1044.37 773.93,1041.07 777.13,1037.86 780.33,1034.74 783.53,1031.69 786.73,1028.72 789.94,1025.82 793.14,1022.99 796.34,1020.22 799.54,1017.52 802.74,1014.89 805.94,1012.31 809.14,1009.79 812.35,1007.32 815.55,1004.91 818.75,1002.55 821.95,1000.23 825.15,997.97 828.35,995.75 831.56,993.57 834.76,991.44 837.96,989.35 841.16,987.30 844.36,985.29 847.56,983.31 850.77,981.37 853.97,979.47 857.17,977.60 860.37,975.76 863.57,973.95 866.77,972.18 869.97,970.44 873.18,968.72 876.38,967.04 879.58,965.38 882.78,963.75 885.98,962.14 889.18,960.56 892.39,959.00 895.59,957.47 898.79,955.96 901.99,954.48 905.19,953.02 908.39,951.57 911.60,950.15 914.80,948.75 918.00,947.37 921.20,946.01" fill="none" stroke="#ee2418" stroke-width="1.25" stroke-dasharray="5.0 5.0" stroke-linecap="round"/>
</g>
<g fill="none" stroke="#000" stroke-width="1.25" stroke-linecap="round" stroke-linejoin="round">
<rect x="585.50" y="584.30" width="335.70" height="266.00"/>
<path d="M597.93 850.30v11.62M647.02 850.30v11.62M696.10 850.30v11.62M745.18 850.30v11.62M794.26 850.30v11.62M843.34 850.30v11.62M892.42 850.30v11.62M585.50 822.15h-11.62M585.50 784.48h-11.62M585.50 746.82h-11.62M585.50 709.16h-11.62M585.50 671.49h-11.62M585.50 633.83h-11.62M585.50 596.17h-11.62"/></g>
<text x="597.93" y="891.73" font-size="19.37" text-anchor="middle">0.00</text>
<text x="696.10" y="891.73" font-size="19.37" text-anchor="middle">0.04</text>
<text x="794.26" y="891.73" font-size="19.37" text-anchor="middle">0.08</text>
<text x="892.42" y="891.73" font-size="19.37" text-anchor="middle">0.12</text>
<text x="556.71" y="822.15" font-size="19.37" text-anchor="middle" transform="rotate(-90 556.71 822.15)">-3</text>
<text x="556.71" y="784.48" font-size="19.37" text-anchor="middle" transform="rotate(-90 556.71 784.48)">-2</text>
<text x="556.71" y="746.82" font-size="19.37" text-anchor="middle" transform="rotate(-90 556.71 746.82)">-1</text>
<text x="556.71" y="709.16" font-size="19.37" text-anchor="middle" transform="rotate(-90 556.71 709.16)">0</text>
<text x="556.71" y="671.49" font-size="19.37" text-anchor="middle" transform="rotate(-90 556.71 671.49)">1</text>
<text x="556.71" y="633.83" font-size="19.37" text-anchor="middle" transform="rotate(-90 556.71 633.83)">2</text>
<text x="556.71" y="596.17" font-size="19.37" text-anchor="middle" transform="rotate(-90 556.71 596.17)">3</text>
<text x="753.35" y="939.11" font-size="19.37" text-anchor="middle">Leverage</text>
<text x="510.73" y="717.30" font-size="19.37" text-anchor="middle" transform="rotate(-90 510.73 717.30)">Standardized residuals</text>
<text x="753.35" y="573.84" font-size="23.33" text-anchor="middle">Residuals vs Leverage</text>
<text x="737.75" y="807.85" font-size="14.52" text-anchor="start">15</text>
<text x="880.26" y="645.81" font-size="14.52" text-anchor="end">119</text>
<text x="811.68" y="614.84" font-size="14.52" text-anchor="start">135</text>
<line x1="602.93" y1="827.40" x2="637.79" y2="827.40" stroke="#ee2418" stroke-width="1.25" stroke-dasharray="5.0 5.0" stroke-linecap="round"/>
<text x="655.22" y="834.80" font-size="19.37" text-anchor="start">Cook's distance</text>
<g transform="translate(511.10 237.30) rotate(-90)"><text x="-97.37" y="-3.2" font-size="17.5">|</text><text x="-94.5" y="0" font-size="19.37">Standardized residuals</text><text x="102.53" y="-3.2" font-size="17.5">|</text><path d="M-107.5 -6.3L-104.3 -7.55L-101.95 0L-97.9 -19.6H107" fill="none" stroke="#000" stroke-width="1.2" stroke-linejoin="round" stroke-linecap="round"/></g></svg></body></html>
